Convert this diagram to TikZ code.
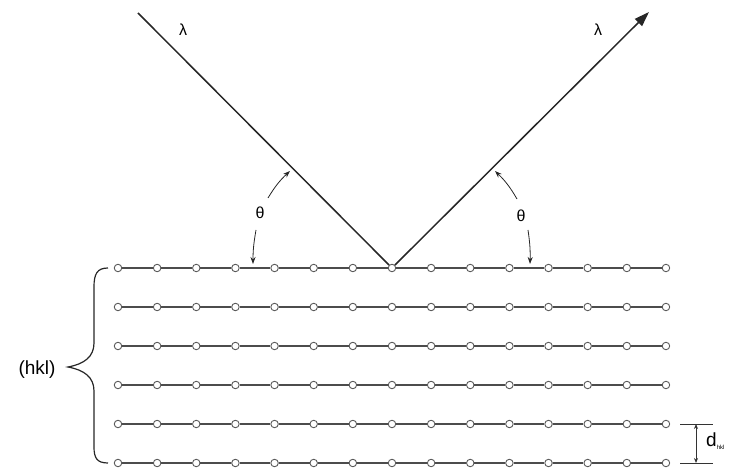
\documentclass[tikz,border=0pt]{standalone}
\usepackage{fontspec}
\setmainfont{Liberation Sans}
\usetikzlibrary{arrows.meta}
\begin{document}
\begin{tikzpicture}[x=1pt,y=-1pt,
  atom/.style={circle,draw=black!65,fill=white,line width=0.9pt,minimum size=7.5pt,inner sep=0pt},
  plane/.style={draw=black!70,line width=1.1pt},
  ray/.style={draw=black!85,line width=1.5pt},
  anglearrow/.style={draw=black!85,line width=0.8pt,-{Stealth[length=7pt,width=5pt]}},
  lbl/.style={inner sep=0pt,font=\fontsize{16}{18}\selectfont}]
\useasboundingbox (0,0) rectangle (737,473);
% lattice rows
\foreach \r/\y in {1/268,2/307,3/346,4/385,5/424,6/463}{
  \foreach \i in {1,...,15}{
    \node[atom] (c-\r-\i) at ({118+39.14*(\i-1)},\y) {};
  }
  \foreach \i [evaluate=\i as \j using int(\i+1)] in {1,...,14}{
    \draw[plane] (c-\r-\i) -- (c-\r-\j);
  }
}
% rays
\coordinate (src) at (138,13);
\coordinate (dst) at (649,12);
\draw[ray] (src) -- (c-1-8);
\draw[ray,-{Triangle[length=15pt,width=10pt]}] (c-1-8) -- (dst);
% lambda labels
\node[lbl] (l1) at (183,30) {λ};
\node[lbl] (l2) at (598,30) {λ};
% theta labels and arrows
\node[lbl] (t1) at (260,213) {θ};
\node[lbl] (t2) at (521,216) {θ};
\coordinate (t1a) at (290,171);
\coordinate (t1b) at (253,264);
\coordinate (t2a) at (495,171);
\coordinate (t2b) at (530,264);
\draw[anglearrow] (268,198) to[bend left=8] (t1a);
\draw[anglearrow] (256,230) to[bend right=5] (t1b);
\draw[anglearrow] (517,199) to[bend right=8] (t2a);
\draw[anglearrow] (528,230) to[bend left=5] (t2b);
% brace
\draw[black!85,line width=1.2pt] (108,268) .. controls (97,268) and (94,274) .. (94,287) -- (94,343)
  .. controls (94,357) and (84,364) .. (68,367)
  .. controls (84,370) and (94,377) .. (94,391) -- (94,447)
  .. controls (94,458) and (97,463) .. (108,463);
\node[inner sep=0pt,font=\fontsize{19}{21}\selectfont] (hkl) at (37,370) {(hkl)};
% d_hkl
\coordinate (da) at (680,424);
\coordinate (db) at (713,424);
\coordinate (dc) at (680,463);
\coordinate (dd) at (713,463);
\draw[black!80,line width=0.9pt] (da) -- (db);
\draw[black!80,line width=0.9pt] (dc) -- (dd);
\coordinate (dm1) at (696,424);
\coordinate (dm2) at (696,463);
\draw[black!80,line width=0.8pt,{Stealth[length=5pt,width=4pt]}-{Stealth[length=5pt,width=4pt]}] (dm1) -- (dm2);
\node[anchor=west,inner sep=0pt,font=\fontsize{19}{21}\selectfont] (dh) at (706,441) {d\raisebox{-0.3ex}{\fontsize{6}{7}\selectfont hkl}};
\end{tikzpicture}
\end{document}
